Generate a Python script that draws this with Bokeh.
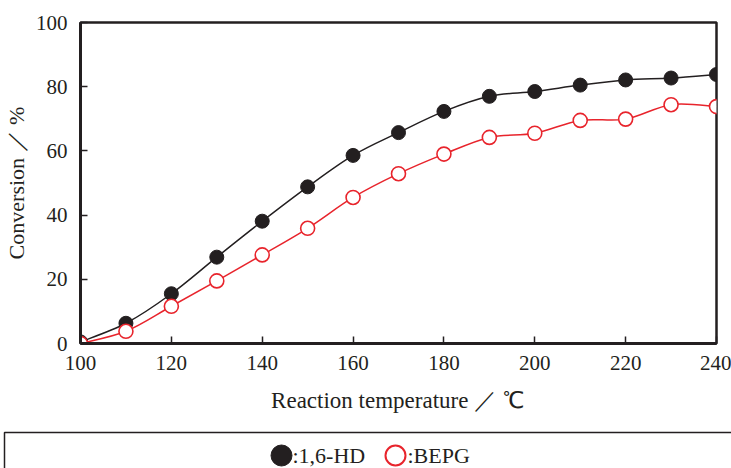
import numpy as np
from bokeh.plotting import figure
from bokeh.layouts import column
from bokeh.models import FixedTicker, Range1d
from bokeh.core.properties import value
from bokeh.embed import file_html
from bokeh.resources import INLINE

# Reaction temperature (deg C) and conversion (%) for the two diols
temperature = [100, 110, 120, 130, 140, 150, 160, 170, 180, 190, 200, 210, 220, 230, 240]
conv_16hd = [0.5, 6.3, 15.5, 26.9, 38.1, 48.8, 58.6, 65.7, 72.3, 77.0, 78.5, 80.5, 82.1, 82.7, 83.8]
conv_bepg = [0.0, 3.8, 11.6, 19.5, 27.6, 35.9, 45.5, 52.9, 59.0, 64.2, 65.5, 69.5, 69.9, 74.4, 73.8]
series_labels = [":1,6-HD", ":BEPG"]

x_ticks = [100, 120, 140, 160, 180, 200, 220, 240]
y_ticks = [0, 20, 40, 60, 80, 100]

INK = "#231f20"
RED = "#e8242c"
SERIF = "Liberation Serif"


def smooth_segments(xs, ys, t=1.0 / 6.0):
    """Catmull-Rom style cubic Bezier control points between successive points."""
    xs = np.asarray(xs, float)
    ys = np.asarray(ys, float)
    n = len(xs)
    xp = np.concatenate([[xs[0]], xs, [xs[-1]]])
    yp = np.concatenate([[ys[0]], ys, [ys[-1]]])
    seg = dict(x0=[], y0=[], x1=[], y1=[], cx0=[], cy0=[], cx1=[], cy1=[])
    for i in range(n - 1):
        a, b, c, d = i, i + 1, i + 2, i + 3
        seg["x0"].append(xp[b]); seg["y0"].append(yp[b])
        seg["x1"].append(xp[c]); seg["y1"].append(yp[c])
        seg["cx0"].append(xp[b] + (xp[c] - xp[a]) * t)
        seg["cy0"].append(yp[b] + (yp[c] - yp[a]) * t)
        seg["cx1"].append(xp[c] - (xp[d] - xp[b]) * t)
        seg["cy1"].append(yp[c] - (yp[d] - yp[b]) * t)
    return seg


p = figure(
    width=731, height=428,
    x_range=Range1d(100, 240), y_range=Range1d(0, 100),
    output_backend="svg", toolbar_location=None,
    min_border_left=80, min_border_right=15, min_border_top=22, min_border_bottom=85,
)
p.frame_align = False
p.grid.visible = False
p.background_fill_color = "white"
p.border_fill_color = "white"
p.outline_line_color = INK
p.outline_line_width = 2.5

for ax in (p.xaxis[0], p.yaxis[0]):
    ax.axis_line_color = INK
    ax.axis_line_width = 3
    ax.major_tick_line_color = INK
    ax.major_tick_line_width = 1.5
    ax.major_tick_in = 7
    ax.major_tick_out = 0
    ax.minor_tick_line_color = None
    ax.major_label_text_font = SERIF
    ax.major_label_text_font_size = "21px"
    ax.major_label_text_color = INK
    ax.axis_label_text_font = SERIF
    ax.axis_label_text_font_style = "normal"
    ax.axis_label_text_color = INK

p.xaxis.ticker = FixedTicker(ticks=x_ticks)
p.yaxis.ticker = FixedTicker(ticks=y_ticks)
p.xaxis.axis_label = "Reaction temperature ／ ℃"
p.yaxis.axis_label = "Conversion ／ %"
p.xaxis.axis_label_text_font_size = "23px"
p.yaxis.axis_label_text_font_size = "22px"
p.xaxis.major_label_standoff = 12
p.xaxis.axis_label_standoff = 15
p.yaxis.major_label_standoff = 13
p.yaxis.axis_label_standoff = 4

hd = smooth_segments(temperature, conv_16hd)
bp = smooth_segments(temperature, conv_bepg)
p.bezier(source=hd, x0="x0", y0="y0", x1="x1", y1="y1", cx0="cx0", cy0="cy0",
         cx1="cx1", cy1="cy1", line_color=INK, line_width=1.5)
p.bezier(source=bp, x0="x0", y0="y0", x1="x1", y1="y1", cx0="cx0", cy0="cy0",
         cx1="cx1", cy1="cy1", line_color=RED, line_width=1.5)

p.scatter(temperature, conv_16hd, size=14, marker="circle",
          fill_color=INK, line_color=INK, line_width=1)
p.scatter(temperature, conv_bepg, size=14, marker="circle",
          fill_color="white", line_color=RED, line_width=1.6)

# Key strip under the chart: a pixel-scaled panel with an open-ended box
leg = figure(
    width=731, height=40, x_range=Range1d(0, 729), y_range=Range1d(0, 40),
    x_axis_type=None, y_axis_type=None,
    output_backend="svg", toolbar_location=None,
    min_border_left=2, min_border_right=0, min_border_top=0, min_border_bottom=0,
)
leg.frame_align = False
leg.grid.visible = False
leg.outline_line_color = None
leg.background_fill_color = "white"
leg.border_fill_color = "white"

leg.line([2, 2, 760], [-10, 36, 36], line_color=INK, line_width=1.5)
leg.scatter([279], [13], size=21, marker="circle", fill_color=INK, line_color=INK)
leg.scatter([393], [13], size=20, marker="circle", fill_color="white",
            line_color=RED, line_width=2)
leg.text([290, 405], [13, 13], text=series_labels, text_baseline="middle",
         text_font=value(SERIF), text_font_size="22px", text_color=INK)

layout = column(p, leg, spacing=0)
open("out.html", "w").write(file_html(layout, INLINE))
